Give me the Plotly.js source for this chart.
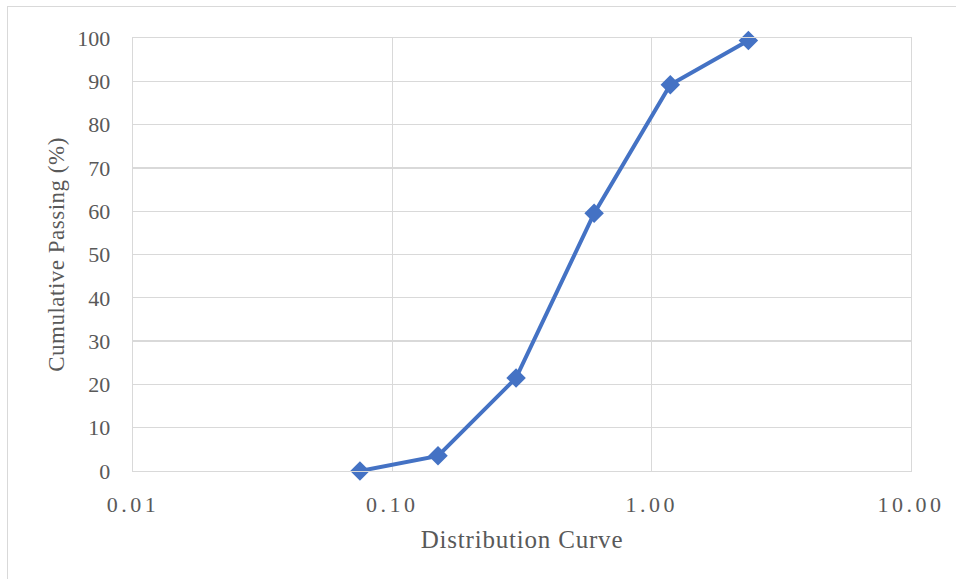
<!DOCTYPE html>
<html>
<head>
<meta charset="utf-8">
<script src="https://cdn.plot.ly/plotly-3.0.1.min.js"></script>
<style>
  html, body { margin: 0; padding: 0; background: #ffffff; }
  #wrap { position: relative; width: 956px; height: 579px; overflow: hidden; }
  #frame { position: absolute; left: 7px; top: 6px; width: 980px; height: 600px; border: 1.5px solid #d9d9d9; box-sizing: border-box; pointer-events: none; }
  #chart { position: absolute; left: 0; top: 0; width: 956px; height: 579px; }
</style>
</head>
<body>
<div id="wrap">
  <div id="chart"></div>
  <div id="frame"></div>
</div>
<script>
// Sieve sizes (mm) and cumulative passing (%)
const sieveSizes = [0.075, 0.15, 0.3, 0.6, 1.18, 2.36];
const cumulativePassing = [0, 3.5, 21.5, 59.5, 89.2, 99.4];
const xTickVals = [0.01, 0.1, 1, 10];
const xTickText = ["0.01", "0.10", "1.00", "10.00"];
const yTickVals = [0, 10, 20, 30, 40, 50, 60, 70, 80, 90, 100];

const spaced = (s, px) => '<span style="letter-spacing:' + px + 'px">' + s + '</span>';

const trace = {
  x: sieveSizes,
  y: cumulativePassing,
  type: 'scatter',
  mode: 'lines+markers',
  line: { color: '#4472c4', width: 4 },
  marker: { symbol: 'diamond', size: 15, color: '#4472c4' },
  showlegend: false,
  cliponaxis: false
};

const fontFam = '"Liberation Serif", "Times New Roman", serif';

const layout = {
  width: 956,
  height: 579,
  margin: { l: 133, r: 45, t: 38, b: 108 },
  paper_bgcolor: '#ffffff',
  plot_bgcolor: '#ffffff',
  font: { family: fontFam, color: '#595959', size: 22 },
  xaxis: {
    type: 'log',
    range: [-2, 1],
    tickmode: 'array',
    tickvals: xTickVals,
    ticktext: xTickText.map(s => spaced(s, 3.5)),
    showgrid: true,
    gridcolor: '#d9d9d9',
    gridwidth: 1.3,
    showline: true,
    linecolor: '#d9d9d9',
    linewidth: 1.3,
    mirror: true,
    zeroline: false,
    ticks: 'outside',
    ticklen: 13,
    tickcolor: 'rgba(0,0,0,0)',
    tickfont: { family: fontFam, size: 22, color: '#595959' },
    title: { text: spaced('Distribution Curve', 0.8), font: { family: fontFam, size: 25, color: '#595959' }, standoff: 14 }
  },
  yaxis: {
    range: [0, 100],
    tickmode: 'array',
    tickvals: yTickVals,
    showgrid: true,
    gridcolor: '#d9d9d9',
    gridwidth: 1.3,
    showline: true,
    linecolor: '#d9d9d9',
    linewidth: 1.3,
    mirror: true,
    zeroline: false,
    ticks: 'outside',
    ticklen: 17,
    tickcolor: 'rgba(0,0,0,0)',
    tickfont: { family: fontFam, size: 22, color: '#595959' },
    title: { text: spaced('Cumulative Passing (%)', 0.5), font: { family: fontFam, size: 23, color: '#595959' }, standoff: 6 }
  }
};

Plotly.newPlot('chart', [trace], layout, { displayModeBar: false, staticPlot: true });
</script>
</body>
</html>
